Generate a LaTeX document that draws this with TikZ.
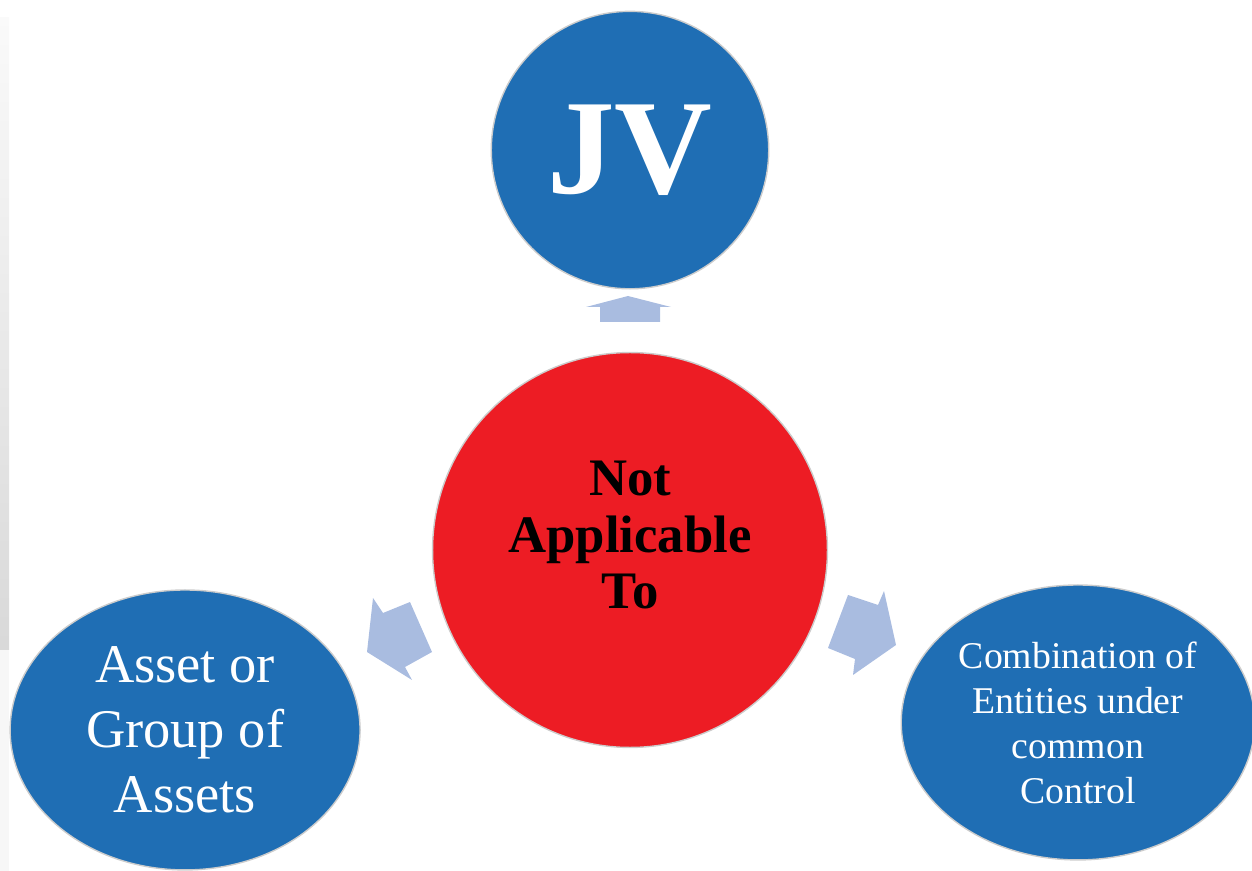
\documentclass[tikz,border=0pt]{standalone}
\usepackage{fontspec}
\setmainfont{Liberation Serif}
\usetikzlibrary{shapes.geometric,positioning}
\definecolor{jvblue}{RGB}{31,110,180}
\definecolor{nared}{RGB}{237,28,36}
\definecolor{arrblue}{RGB}{169,188,224}

\begin{document}
\begin{tikzpicture}[x=0.02cm,y=-0.02cm,node distance=4cm,on grid,
    hub/.style={circle,fill=nared,draw=black!20,line width=0.8pt,minimum size=7.9cm},
    hubtext/.style={align=center,text=black,font=\fontsize{30}{32}\selectfont\bfseries},
    topic/.style={fill=jvblue,draw=black!20,line width=0.8pt,text=white,align=center},
    blockarr/.style={fill=arrblue}]
	\useasboundingbox (0,0) rectangle (1252,871);
	\shade[top color=gray!4,bottom color=gray!30] (0,18) rectangle (9,650);
	\fill[gray!6] (0,650) rectangle (9,871);
	\node[hub] (na) at (630,550) {};
	\node[hubtext] (natext) [above=0.3cm of na] {Not\\Applicable\\To};
	\node[topic,circle,minimum size=5.55cm,font=\fontsize{77}{77}\selectfont\bfseries] (jv) [above=8cm of na] {JV};
	\node[topic,ellipse,minimum width=7cm,minimum height=5.6cm,font=\fontsize{31}{37}\selectfont] (asset) [below left=3.6cm and 8.9cm of na] {Asset or\\Group of\\Assets};
	\node[topic,ellipse,minimum width=6.95cm,minimum height=5.5cm,font=\fontsize{21.5}{25.6}\selectfont] (comb) [below right=3.45cm and 8.96cm of na] {Combination of\\Entities under\\common\\Control};
	% block arrows between the hub and the three topics
	\fill[blockarr] (628,296) -- (671,307) -- (660,307) -- (660,322) -- (600,322) -- (600,307) -- (586,307) -- cycle;
	\fill[blockarr] (367,652) -- (373,598) -- (383,613) -- (410,602) -- (432,652) -- (405,667) -- (412,680) -- cycle;
	\fill[blockarr] (896,645) -- (884,591) -- (878,605) -- (848,595) -- (828,648) -- (855,659) -- (853,675) -- cycle;
\end{tikzpicture}
\end{document}
